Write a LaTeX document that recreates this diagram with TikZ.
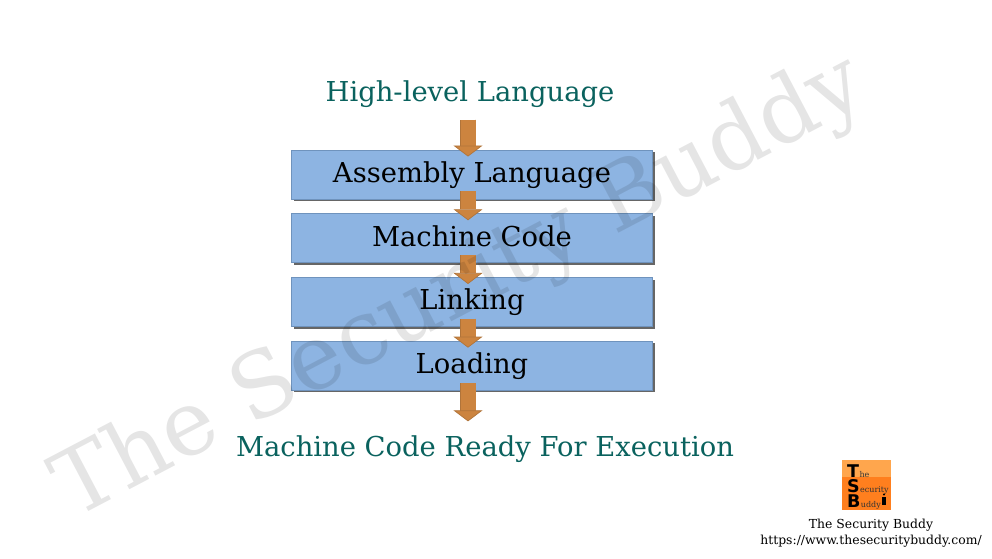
\documentclass[tikz,border=0pt]{standalone}
\usepackage{fontspec}
\setmainfont{DejaVu Serif}
\setsansfont{DejaVu Sans}
\usetikzlibrary{matrix,arrows.meta,shadows}
\definecolor{headteal}{HTML}{0A625E}
\definecolor{boxblue}{HTML}{8DB4E2}
\definecolor{boxedge}{HTML}{6F93BD}
\definecolor{flowfill}{HTML}{CC843F}
\definecolor{flowedge}{HTML}{B0743A}
\definecolor{logolight}{HTML}{FFA64D}
\definecolor{logodark}{HTML}{FF7F1E}
\tikzset{
	x=1pt,y=1pt,
	stage/.style={draw=boxedge,fill=boxblue,line width=0.8pt,minimum width=361pt,minimum height=49pt,inner sep=0pt,
		text height=20pt,text depth=4pt,
		font=\fontsize{27.4}{32}\selectfont,drop shadow={shadow xshift=2.2pt,shadow yshift=-2.2pt,fill=black!80,opacity=0.75}},
	heading/.style={text=headteal,font=\fontsize{27.4}{32}\selectfont,inner sep=0pt},
	flow/.style={draw=flowedge,line width=0.7pt,double=flowfill,double distance=15pt,
		-{Triangle[length=11pt,width=29pt,fill=flowfill,line width=0.7pt]}},
	logoletter/.style={anchor=base west,inner sep=0pt,font=\fontsize{17.5}{18}\sffamily\bfseries\selectfont},
	logosmall/.style={anchor=base west,inner sep=0pt,text=black!80,font=\fontsize{8}{9}\selectfont},
	caption/.style={inner sep=0pt,font=\fontsize{12.4}{15}\selectfont}
}
\begin{document}
\begin{tikzpicture}
	\useasboundingbox (0,0) rectangle (992,-558);
	\node[heading] (high) at (470,-94) {High-level Language};
	\matrix (b) [matrix of nodes, row sep=13.9pt, nodes={stage}] at (472,-270)
	{
		Assembly Language \\
		Machine Code \\
		Linking \\
		Loading \\
	};
	\node[heading] (ready) at (485,-449) {Machine Code Ready For Execution};
	% block arrows, overlapping the boxes
	\draw[flow] ([xshift=-2pt,yshift=-12pt]high.south) -- ([xshift=-4pt,yshift=-7pt]b-1-1.north);
	\foreach \i/\j in {1/2,2/3,3/4}
		\draw[flow] ([xshift=-4pt,yshift=8pt]b-\i-1.south) -- ([xshift=-4pt,yshift=-7pt]b-\j-1.north);
	\draw[flow] ([xshift=-4pt,yshift=7pt]b-4-1.south) -- ([xshift=-17pt,yshift=14pt]ready.north);
	% logo
	\node[fill=logodark,minimum width=49pt,minimum height=50pt,inner sep=0pt] (logo) at (866.5,-485) {};
	\fill[logolight] (logo.north west) rectangle ([yshift=-17pt]logo.north east);
	\node[logoletter] (logot) at (847,-477) {T};
	\node[logosmall] (logohe) at (logot.base east) {he};
	\node[logoletter] (logos) at (847,-492) {S};
	\node[logosmall] (logosec) at (logos.base east) {ecurity};
	\node[logoletter] (logob) at (847,-507) {B};
	\node[logosmall] (logobud) at (logob.base east) {uddy};
	\fill (882,-497) rectangle (886,-505);
	\fill (884,-494.5) circle (1.2pt);
	\node[caption] (name) at (871,-525) {The Security Buddy};
	\node[caption] (url) at (871,-541) {https://www.thesecuritybuddy.com/};
	% watermark on top
	\node[rotate=27.7,text=black,opacity=0.1,inner sep=0pt,font=\fontsize{90}{100}\selectfont] (mark) at (461,-289) {The Security Buddy};
\end{tikzpicture}
\end{document}
